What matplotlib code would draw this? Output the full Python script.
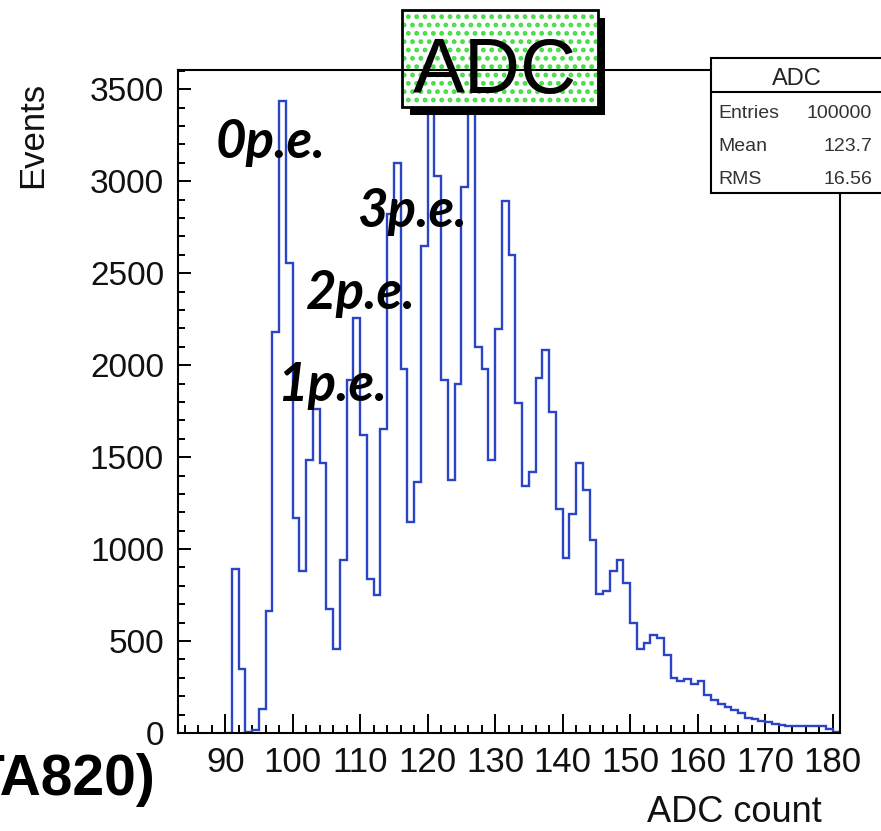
import matplotlib
matplotlib.use('Agg')
import matplotlib.pyplot as plt
from matplotlib.patches import Rectangle
from matplotlib.lines import Line2D
from matplotlib.ticker import MultipleLocator
import numpy as np

plt.rcParams['font.family'] = 'Liberation Sans'
plt.rcParams['hatch.linewidth'] = 2.2

W, H = 881, 831

# ADC spectrum, one-count bins starting at ADC 90
adc_first = 90
events = [0, 894, 350, 5, 15, 133, 664, 2181, 3437, 2553,
          1171, 882, 1486, 1763, 1466, 676, 459, 942, 1920, 2258,
          1623, 838, 749, 1655, 2821, 3097, 1981, 1147, 1365, 2650,
          3418, 3031, 1920, 1377, 1896, 2971, 3400, 2101, 1981, 1486,
          2198, 2891, 2601, 1795, 1345, 1418, 1932, 2085, 1746, 1220,
          954, 1191, 1466, 1321, 1051, 758, 771, 880, 940, 818,
          596, 456, 487, 533, 518, 424, 300, 282, 296, 269,
          282, 205, 178, 155, 142, 124, 109, 84, 78, 64,
          60, 51, 45, 36, 36, 36, 36, 36, 36, 20, 5]

pe_labels = ['0p.e.', '1p.e.', '2p.e.', '3p.e.']
stat_names = ['Entries', 'Mean', 'RMS']
stat_values = ['100000', '123.7', '16.56']

# label anchors (data coords, left/baseline)
pe_pos = [(88.5, 3124), (97.7, 1805), (101.9, 2306), (109.6, 2754)]

BLUE = '#2a44c8'


def fx(px): return px / W
def fy(py): return 1 - py / H


fig = plt.figure(figsize=(W / 100, H / 100), dpi=100)
ax = fig.add_axes([fx(178), fy(733), fx(840) - fx(178), fy(70) - fy(733)])

edges = adc_first + np.arange(len(events) + 1)
ax.stairs(events, edges, color=BLUE, lw=1.7, zorder=2)

ax.set_xlim(83, 181.1)
ax.set_ylim(0, 3605)
ax.xaxis.set_major_locator(MultipleLocator(10))
ax.xaxis.set_minor_locator(MultipleLocator(2))
ax.yaxis.set_major_locator(MultipleLocator(500))
ax.yaxis.set_minor_locator(MultipleLocator(100))
ax.tick_params(which='both', direction='in', top=False, right=False,
               width=1.4, color='black')
ax.tick_params(axis='x', which='major', length=13.7, pad=9, labelsize=25,
               labelcolor='#111111')
ax.tick_params(axis='x', which='minor', length=5.8)
ax.tick_params(axis='y', which='major', length=9.4, pad=10, labelsize=24,
               labelcolor='#111111')
ax.tick_params(axis='y', which='minor', length=5)
for s in ax.spines.values():
    s.set_linewidth(1.5)
ax.spines['top'].set_zorder(4)

for (x, y), t in zip(pe_pos, pe_labels):
    ax.text(x, y, t, ha='left', va='baseline', fontsize=38, family='Lato',
            fontweight='bold', style='italic', color='black', zorder=5)

# title box with shadow
tf = fig.transFigure
ax.add_patch(Rectangle((fx(410), fy(115)), fx(605) - fx(410), fy(18) - fy(115),
                       transform=tf, fc='black', ec='none', zorder=3, clip_on=False))
ax.add_patch(Rectangle((fx(402), fy(107)), fx(598) - fx(402), fy(10) - fy(107),
                       transform=tf, fc='white', ec='#44dd44', lw=0, hatch='..',
                       zorder=3.1, clip_on=False))
ax.add_patch(Rectangle((fx(402), fy(107)), fx(598) - fx(402), fy(10) - fy(107),
                       transform=tf, fc='none', ec='black', lw=2, zorder=3.2, clip_on=False))
ax.text(fx(495), fy(93), 'ADC', transform=tf, ha='center', va='baseline',
        fontsize=56, zorder=3.3, clip_on=False)

# stats box
ax.add_patch(Rectangle((fx(711), fy(193)), fx(900) - fx(711), fy(58) - fy(193),
                       transform=tf, fc='white', ec='black', lw=1.5, zorder=5, clip_on=False))
ax.add_line(Line2D([fx(711), fx(881)], [fy(92), fy(92)], transform=tf,
                   color='black', lw=1.5, zorder=5.1, clip_on=False))
ax.text(fx(797), fy(85), 'ADC', transform=tf, ha='center', va='baseline',
        fontsize=17, color='#222222', zorder=6, clip_on=False)
for i, (n, v) in enumerate(zip(stat_names, stat_values)):
    yb = 118 + 33 * i
    ax.text(fx(718), fy(yb), n, transform=tf, ha='left', va='baseline',
            fontsize=14, color='#333333', zorder=6, clip_on=False)
    ax.text(fx(872), fy(yb), v, transform=tf, ha='right', va='baseline',
            fontsize=14, color='#333333', zorder=6, clip_on=False)

fig.text(fx(33), fy(82), 'Events', rotation=90, ha='center', va='top',
         fontsize=25, color='#111111')
fig.text(fx(822), fy(822), 'ADC count', ha='right', va='baseline',
         fontsize=26, color='#111111')
fig.text(fx(155), fy(795), 'TA820)', ha='right', va='baseline',
         fontsize=41, fontweight='bold', color='black')

fig.savefig('out.png', dpi=100)
